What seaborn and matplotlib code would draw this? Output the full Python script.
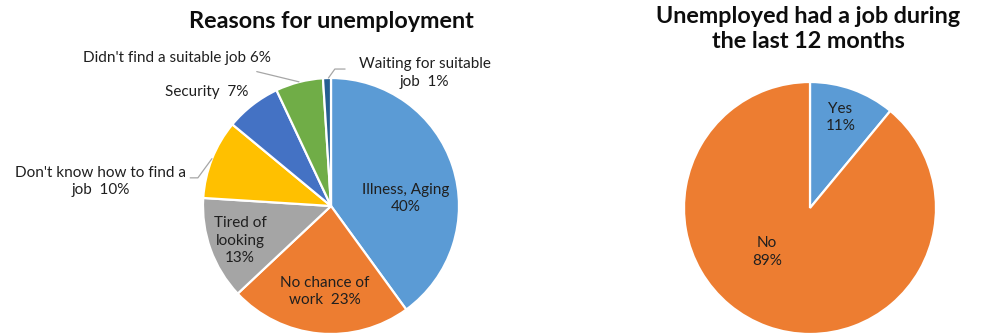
import matplotlib
matplotlib.use("Agg")
import matplotlib.pyplot as plt
import seaborn as sns

# Reasons for unemployment (share of unemployed, %)
reasons = ["Illness, Aging", "No chance of work", "Tired of looking",
           "Don't know how to find a job", "Security",
           "Didn't find a suitable job", "Waiting for suitable job"]
reason_pct = [40, 23, 13, 10, 7, 6, 1]
reason_text = ["Illness, Aging\n{}%", "No chance of\nwork  {}%", "Tired of\nlooking\n{}%",
               "Don't know how to find a\njob  {}%", "Security  {}%",
               "Didn't find a suitable job {}%", "Waiting for suitable\njob  {}%"]

# Had a job during the last 12 months (%)
had_job = ["Yes", "No"]
had_job_pct = [11, 89]
had_job_text = ["Yes\n{}%", "No\n{}%"]

# Office-style palette
reason_colors = ["#5B9BD5", "#ED7D31", "#A5A5A5", "#FFC000", "#4472C4", "#70AD47", "#255E91"]
job_colors = ["#5B9BD5", "#ED7D31"]

# label placement in pie units (radius = 1)
reason_label_xy = [(0.58, 0.06), (-0.05, -0.67), (-0.71, -0.27), (-1.80, 0.19),
                   (-0.97, 0.89), (-1.20, 1.16), (0.73, 1.04)]
reason_leaders = {3: [(-1.10, 0.22), (-1.04, 0.22), (-0.93, 0.37)],
                  5: [(-0.58, 1.05), (-0.25, 0.97)],
                  6: [(0.11, 1.07), (0.03, 1.07), (-0.02, 1.00)]}
job_label_xy = [(0.24, 0.72), (-0.34, -0.35)]

sns.set_theme(style="white")
plt.rcParams["font.family"] = ["Lato", "DejaVu Sans"]

W, H = 982, 336
fig = plt.figure(figsize=(W / 100, H / 100), dpi=100)
fig.patch.set_facecolor("white")


def pie_axes(cx, cy, r):
    return fig.add_axes([(cx - r) / W, (H - cy - r) / H, 2 * r / W, 2 * r / H])


def draw_pie(ax, values, colors, texts, label_xy):
    ax.pie(values, colors=colors, startangle=90, counterclock=False, radius=1,
           wedgeprops=dict(edgecolor="white", linewidth=1.6))
    ax.set_xlim(-1, 1)
    ax.set_ylim(-1, 1)
    ax.set_aspect("equal", adjustable="box")
    ax.axis("off")
    for tmpl, v, (x, y) in zip(texts, values, label_xy):
        ax.text(x, y, tmpl.format(v), ha="center", va="center", fontsize=11,
                color="#1F1F1F", linespacing=1.3, clip_on=False)


ax1 = pie_axes(331, 206, 128)
draw_pie(ax1, reason_pct, reason_colors, reason_text, reason_label_xy)
for pts in reason_leaders.values():
    xs, ys = zip(*pts)
    ax1.plot(xs, ys, color="#A6A6A6", lw=0.9, clip_on=False)

ax2 = pie_axes(810, 208, 126)
draw_pie(ax2, had_job_pct, job_colors, had_job_text, job_label_xy)

fig.text(331 / W, 1 - 21 / H, "Reasons for unemployment", ha="center", va="center",
         fontsize=16.8, fontweight="bold", color="#0D0D0D")
fig.text(808 / W, 1 - 29 / H, "Unemployed had a job during\nthe last 12 months",
         ha="center", va="center", fontsize=16.8, fontweight="bold", color="#0D0D0D",
         linespacing=1.22)

fig.savefig("out.png", dpi=100, facecolor="white")
